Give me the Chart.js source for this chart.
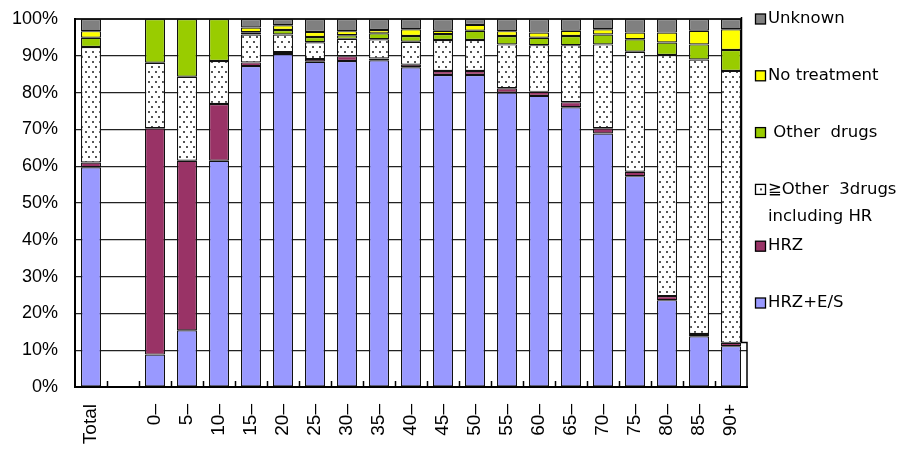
<!DOCTYPE html>
<html>
<head>
<meta charset="utf-8">
<script src="https://cdn.jsdelivr.net/npm/chart.js@4"></script>
<style>
  html, body { margin: 0; padding: 0; background: #fff; }
  #wrap { width: 904px; height: 451px; position: relative; }
</style>
</head>
<body>
<div id="wrap"><canvas id="myChart" width="904" height="451"></canvas></div>
<script>
// categories (second slot is an empty spacer column)
const categories = ['Total', '', '0–', '5–', '10–', '15–', '20–', '25–', '30–', '35–', '40–',
    '45–', '50–', '55–', '60–', '65–', '70–', '75–', '80–', '85–', '90+'];

// percentages
const hrzES       = [59.7, null, 8.8, 15.4, 61.5, 87.2, 90.5, 88.4, 88.6, 88.8, 86.9, 84.8, 84.8, 80.0, 79.1, 76.0, 68.9, 57.3, 23.6, 13.8, 11.1];
const hrz         = [1.3, null, 61.5, 46.1, 15.4, 1.0, 0.5, 0.7, 1.3, 0.5, 0.7, 1.1, 1.1, 1.2, 1.1, 1.4, 1.4, 1.2, 1.1, 0.6, 0.9];
const other3      = [31.4, null, 17.8, 22.8, 11.7, 7.6, 4.8, 4.6, 4.7, 5.2, 6.2, 8.4, 8.4, 11.9, 12.7, 15.5, 22.8, 32.6, 65.5, 74.6, 73.9];
const otherDrugs  = [2.5, null, 11.9, 15.7, 11.4, 0.6, 1.2, 1.4, 1.0, 1.6, 1.6, 1.6, 2.5, 2.3, 2.0, 2.5, 2.7, 3.4, 3.4, 4.1, 5.7];
const noTreatment = [1.8, null, null, null, null, 1.3, 1.3, 1.4, 1.1, 0.9, 1.8, 0.9, 1.6, 1.3, 1.4, 1.4, 1.4, 1.8, 2.7, 3.7, 5.6];
const unknown     = [3.3, null, null, null, null, 2.3, 1.7, 3.5, 3.3, 3.0, 2.8, 3.2, 1.6, 3.3, 3.7, 3.2, 2.8, 3.7, 3.7, 3.2, 2.8];

const yTicks = [0, 10, 20, 30, 40, 50, 60, 70, 80, 90, 100];

const ctx = document.getElementById('myChart').getContext('2d');

// white with small dark dots, like the Excel dotted fill
function dotPattern() {
    const c = document.createElement('canvas');
    c.width = 7; c.height = 10;
    const g = c.getContext('2d');
    g.fillStyle = '#fff';
    g.fillRect(0, 0, 7, 10);
    g.fillStyle = '#555';
    g.fillRect(1, 1, 2, 2);
    g.fillRect(4, 6, 2, 2);
    return ctx.createPattern(c, 'repeat');
}
const dots = dotPattern();

const labelFont = '"Liberation Sans", Arial, sans-serif';

// the right hand legend, drawn top-down in reverse stack order
const legendPlugin = {
    id: 'sideLegend',
    afterDraw(chart) {
        const c = chart.ctx;
        const area = chart.chartArea;
        c.save();
        // legend box overlaps the right edge of the plot a little
        c.fillStyle = '#fff';
        c.fillRect(741, 16, 10, 326);
        c.strokeStyle = '#000';
        c.lineWidth = 1.5;
        c.beginPath();
        c.moveTo(741.5, 17);
        c.lineTo(741.5, 342.5);
        c.lineTo(area.right, 342.5);
        c.lineTo(area.right, area.bottom);
        c.stroke();

        const items = chart.data.datasets.slice().reverse();
        c.font = '16.5px "DejaVu Sans", "Noto Sans CJK JP", sans-serif';
        c.textBaseline = 'middle';
        items.forEach((ds, i) => {
            const y = 19 + i * 56.8;
            c.fillStyle = ds.backgroundColor === dots ? '#fff' : ds.backgroundColor;
            c.fillRect(755.5, y - 5, 10, 10);
            if (ds.backgroundColor === dots) {
                c.fillStyle = '#444';
                c.fillRect(760, y - 1, 2, 2);
            }
            c.strokeStyle = '#000';
            c.lineWidth = 1.3;
            c.strokeRect(755.5, y - 5, 10, 10);
            c.fillStyle = '#000';
            const lines = Array.isArray(ds.label) ? ds.label : [ds.label];
            lines.forEach((t, k) => c.fillText(t, 768, y + k * 27));
        });
        c.restore();
    }
};

// little inside ticks on the x axis at category boundaries
const xTickPlugin = {
    id: 'insideTicks',
    afterDatasetsDraw(chart) {
        const xs = chart.scales.x;
        const bottom = chart.chartArea.bottom;
        const c = chart.ctx;
        c.save();
        c.strokeStyle = '#000';
        c.lineWidth = 1.5;
        c.beginPath();
        for (let i = 0; i < categories.length - 1; i++) {
            const x = Math.round((xs.getPixelForValue(i) + xs.getPixelForValue(i + 1)) / 2) + 0.5;
            c.moveTo(x, bottom);
            c.lineTo(x, bottom - 6);
        }
        c.stroke();
        c.restore();
    }
};

function makeSet(label, data, color) {
    return {
        label: label,
        data: data,
        backgroundColor: color,
        borderColor: '#111',
        borderWidth: 1.2,
        borderSkipped: false,
        barPercentage: 0.625,
        categoryPercentage: 1.0
    };
}

new Chart(ctx, {
    type: 'bar',
    data: {
        labels: categories,
        datasets: [
            makeSet('HRZ+E/S', hrzES, '#9999FF'),
            makeSet('HRZ', hrz, '#993366'),
            makeSet(['≧Other  3drugs', 'including HR'], other3, dots),
            makeSet(' Other  drugs', otherDrugs, '#99CC00'),
            makeSet('No treatment', noTreatment, '#FFFF00'),
            makeSet('Unknown', unknown, '#808080')
        ]
    },
    options: {
        responsive: false,
        animation: false,
        layout: { padding: { top: 19, right: 157, left: 0, bottom: 0 } },
        scales: {
            x: {
                stacked: true,
                grid: { display: false },
                border: { display: true, color: '#000', width: 2 },
                ticks: {
                    autoSkip: false,
                    maxRotation: 90,
                    minRotation: 90,
                    padding: 9,
                    color: '#000',
                    font: { family: labelFont, size: 19 }
                },
                afterFit(s) { s.height = 64; }
            },
            y: {
                stacked: true,
                min: 0,
                max: 100,
                afterBuildTicks(s) { s.ticks = yTicks.map(v => ({ value: v })); },
                grid: {
                    color: '#222',
                    lineWidth: c => (c.tick && c.tick.value === 100 ? 2 : 1.3),
                    drawTicks: true,
                    tickLength: 14,
                    tickColor: 'rgba(0,0,0,0)'
                },
                border: { display: true, color: '#000', width: 2 },
                ticks: {
                    padding: 3,
                    color: '#000',
                    font: { family: labelFont, size: 18 },
                    callback: v => v + '%'
                },
                afterFit(s) { s.width = 75; }
            }
        },
        plugins: {
            legend: { display: false },
            tooltip: { enabled: false }
        }
    },
    plugins: [xTickPlugin, legendPlugin]
});
</script>
</body>
</html>
